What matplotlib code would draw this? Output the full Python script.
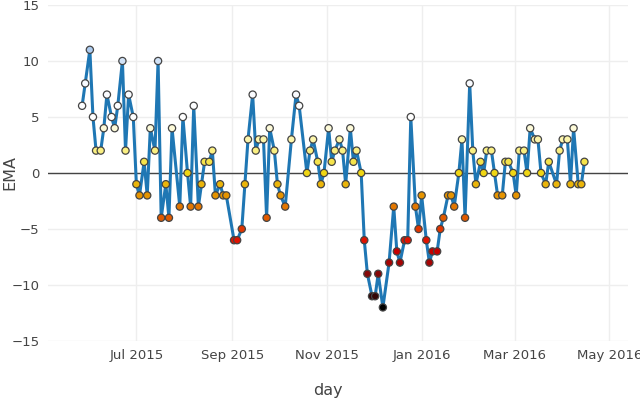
import numpy as np
import pandas as pd
import matplotlib
matplotlib.use("Agg")
import matplotlib.pyplot as plt
import matplotlib.dates as mdates
from matplotlib.colors import LinearSegmentedColormap
from matplotlib.ticker import FuncFormatter

# dates of each reading (Mon / Wed / Fri)
days = [
    "2015-05-27", "2015-05-29", "2015-06-01", "2015-06-03", "2015-06-05",
    "2015-06-08", "2015-06-10", "2015-06-12", "2015-06-15", "2015-06-17",
    "2015-06-19", "2015-06-22", "2015-06-24", "2015-06-26", "2015-06-29",
    "2015-07-01", "2015-07-03", "2015-07-06", "2015-07-08", "2015-07-10",
    "2015-07-13", "2015-07-15", "2015-07-17", "2015-07-20", "2015-07-22",
    "2015-07-24", "2015-07-29", "2015-07-31", "2015-08-03", "2015-08-05",
    "2015-08-07", "2015-08-10", "2015-08-12", "2015-08-14", "2015-08-17",
    "2015-08-19", "2015-08-21", "2015-08-24", "2015-08-26", "2015-08-28",
    "2015-09-02", "2015-09-04", "2015-09-07", "2015-09-09", "2015-09-11",
    "2015-09-14", "2015-09-16", "2015-09-18", "2015-09-21", "2015-09-23",
    "2015-09-25", "2015-09-28", "2015-09-30", "2015-10-02", "2015-10-05",
    "2015-10-09", "2015-10-12", "2015-10-14", "2015-10-19", "2015-10-21",
    "2015-10-23", "2015-10-26", "2015-10-28", "2015-10-30", "2015-11-02",
    "2015-11-04", "2015-11-06", "2015-11-09", "2015-11-11", "2015-11-13",
    "2015-11-16", "2015-11-18", "2015-11-20", "2015-11-23", "2015-11-25",
    "2015-11-27", "2015-11-30", "2015-12-02", "2015-12-04", "2015-12-07",
    "2015-12-11", "2015-12-14", "2015-12-16", "2015-12-18", "2015-12-21",
    "2015-12-23", "2015-12-25", "2015-12-28", "2015-12-30", "2016-01-01",
    "2016-01-04", "2016-01-06", "2016-01-08", "2016-01-11", "2016-01-13",
    "2016-01-15", "2016-01-18", "2016-01-20", "2016-01-22", "2016-01-25",
    "2016-01-27", "2016-01-29", "2016-02-01", "2016-02-03", "2016-02-05",
    "2016-02-08", "2016-02-10", "2016-02-12", "2016-02-15", "2016-02-17",
    "2016-02-19", "2016-02-22", "2016-02-24", "2016-02-26", "2016-02-29",
    "2016-03-02", "2016-03-04", "2016-03-07", "2016-03-09", "2016-03-11",
    "2016-03-14", "2016-03-16", "2016-03-18", "2016-03-21", "2016-03-23",
    "2016-03-28", "2016-03-30", "2016-04-01", "2016-04-04", "2016-04-06",
    "2016-04-08", "2016-04-11", "2016-04-13", "2016-04-15",
]

ema = [
    6, 8, 11, 5, 2, 2, 4, 7, 5, 4,
    6, 10, 2, 7, 5, -1, -2, 1, -2, 4,
    2, 10, -4, -1, -4, 4, -3, 5, 0, -3,
    6, -3, -1, 1, 1, 2, -2, -1, -2, -2,
    -6, -6, -5, -1, 3, 7, 2, 3, 3, -4,
    4, 2, -1, -2, -3, 3, 7, 6, 0, 2,
    3, 1, -1, 0, 4, 1, 2, 3, 2, -1,
    4, 1, 2, 0, -6, -9, -11, -11, -9, -12,
    -8, -3, -7, -8, -6, -6, 5, -3, -5, -2,
    -6, -8, -7, -7, -5, -4, -2, -2, -3, 0,
    3, -4, 8, 2, -1, 1, 0, 2, 2, 0,
    -2, -2, 1, 1, 0, -2, 2, 2, 0, 4,
    3, 3, 0, -1, 1, -1, 2, 3, 3, -1,
    4, -1, -1, 1,
]

y_ticks = [-15, -10, -5, 0, 5, 10, 15]
x_ticks = ["2015-07-01", "2015-09-01", "2015-11-01",
           "2016-01-01", "2016-03-01", "2016-05-01"]

df = pd.DataFrame({"day": pd.to_datetime(days), "ema": ema})

# marker colour scale, black -> red -> yellow -> white -> light blue
vmin, vmax = -12, 11
nodes = [
    (-12, (0.0, 0.0, 0.0)),
    (-10, (0.40, 0.05, 0.05)),
    (-7, (0.78, 0.0, 0.0)),
    (-6, (0.88, 0.08, 0.0)),
    (-4, (0.88, 0.35, 0.0)),
    (-2, (0.90, 0.58, 0.0)),
    (0, (0.94, 0.84, 0.08)),
    (2, (0.98, 0.94, 0.51)),
    (5, (1.0, 1.0, 1.0)),
    (9, (0.97, 0.98, 1.0)),
    (11, (0.68, 0.80, 0.94)),
]
cmap = LinearSegmentedColormap.from_list(
    "ema", [((v - vmin) / (vmax - vmin), c) for v, c in nodes])

fig = plt.figure(figsize=(6.4, 4.0), dpi=100)
ax = fig.add_axes([0.075, 0.1475, 0.906, 0.84])

ax.plot(df["day"], df["ema"], color="#1f77b4", lw=2.2, zorder=3)
ax.scatter(df["day"], df["ema"], c=df["ema"], cmap=cmap, vmin=vmin, vmax=vmax,
           s=27, edgecolors="#444444", linewidths=0.9, zorder=4)

ax.axhline(0, color="#444444", lw=1.0, zorder=2)

ax.set_ylim(-15, 15)
ax.set_yticks(y_ticks)
ax.yaxis.set_major_formatter(FuncFormatter(lambda v, p: f"{int(v)}".replace("-", "\u2212")))
ax.set_xlim(pd.Timestamp("2015-05-05"), pd.Timestamp("2016-05-13"))
ax.set_xticks(pd.to_datetime(x_ticks))
ax.xaxis.set_major_formatter(mdates.DateFormatter("%b %Y"))

ax.grid(True, color="#eeeeee", lw=1.0, zorder=0)
ax.set_axisbelow(True)
for s in ax.spines.values():
    s.set_visible(False)
ax.tick_params(length=0, labelsize=9.5, colors="#444444", pad=6)

ax.set_xlabel("day", fontsize=11.5, color="#444444", va="center")
ax.set_ylabel("EMA", fontsize=11.5, color="#444444", va="center")
ax.xaxis.set_label_coords(0.483, -0.146)
ax.yaxis.set_label_coords(-0.066, 0.5)

fig.savefig("out.png", dpi=100)
